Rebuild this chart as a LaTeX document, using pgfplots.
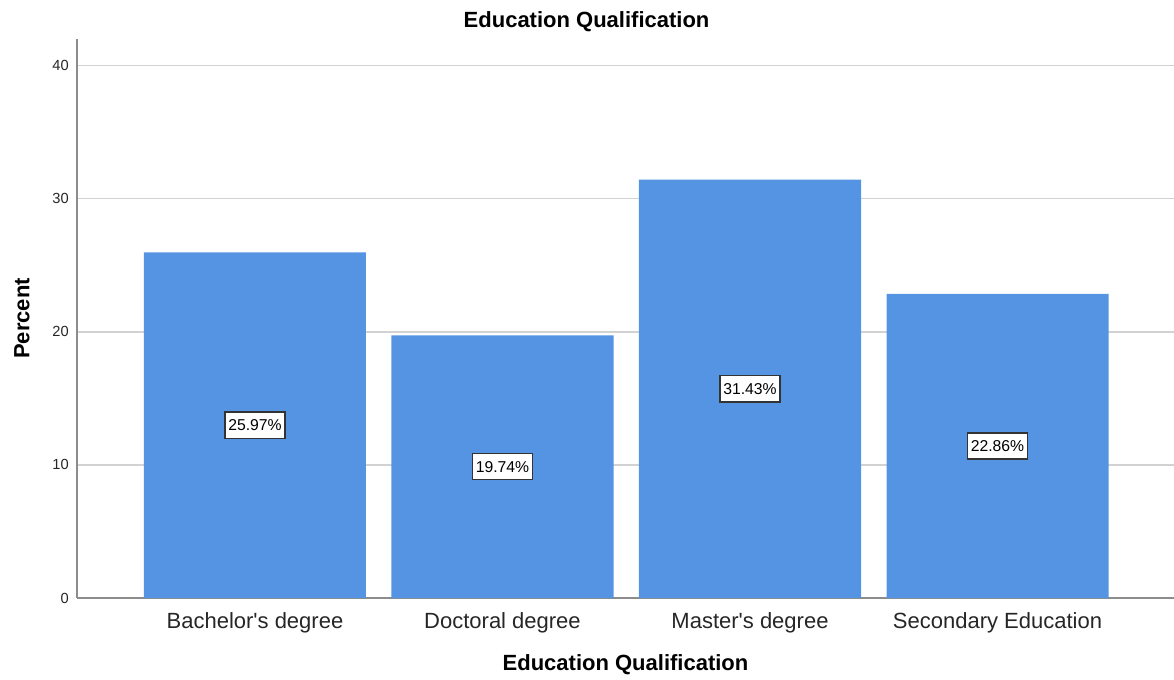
\documentclass[border=0pt]{standalone}
\usepackage{pgfplots}
\usepackage{pgfplotstable}
\pgfplotsset{compat=1.18}
\usepackage{fontspec}
\setmainfont{Liberation Sans}[Ligatures=TeXOff]

\definecolor{barblue}{HTML}{5594E3}
\definecolor{gridgray}{HTML}{D2D2D2}
\definecolor{axisgray}{HTML}{8C8C8C}

% Share of respondents by education level (percent)
\pgfplotstableread{
x  pct
0  25.97
1  19.74
2  31.43
3  22.86
}\edu

\begin{document}
\begin{tikzpicture}[x=1pt,y=1pt]
\path[use as bounding box] (-57.75pt,-60.75pt) rectangle (822.75pt,448.5pt);
\begin{axis}[
  scale only axis,
  width=822.75pt, height=419.25pt,
  xmin=-0.719, xmax=3.713,
  ymin=0, ymax=42,
  axis lines*=left,
  axis line style={axisgray, line width=1.1pt},
  ytick={0,10,20,30,40},
  xtick={0,1,2,3},
  xticklabels={Bachelor's degree, Doctoral degree, Master's degree, Secondary Education},
  major tick length=0pt,
  ymajorgrids,
  grid style={gridgray, line width=1.1pt},
  /pgf/number format/assume math mode=true,
  yticklabel style={font=\fontsize{11}{13}\selectfont, anchor=east, inner sep=0pt, xshift=-6pt, text=black!85},
  xticklabel style={font=\fontsize{16.5}{19}\selectfont, anchor=base, inner sep=0pt, yshift=-22.5pt, text=black!85},
  clip=false,
]
\addplot[ybar, bar width=0.897, fill=barblue, draw=none] table[x=x, y=pct] {\edu};
\addplot[draw=none, mark=none,
  nodes near coords={\pgfmathprintnumber[fixed,fixed zerofill,precision=2]{\pgfplotspointmeta}\%},
  point meta={\thisrow{pct}},
  nodes near coords style={anchor=center, fill=white, draw=black!80, line width=1pt,
    inner xsep=2.4pt, inner ysep=5.6pt, font=\fontsize{11.8}{13}\selectfont, text=black},
] table[x=x, y expr=\thisrow{pct}/2] {\edu};
\node[font=\fontsize{16.5}{19}\selectfont\bfseries, anchor=center] at ([yshift=13pt]rel axis cs:0.4645,1) {Education Qualification};
\node[font=\fontsize{16.5}{19}\selectfont\bfseries, anchor=center] at ([yshift=-50.25pt]rel axis cs:0.5,0) {Education Qualification};
\node[font=\fontsize{16.5}{19}\selectfont\bfseries, anchor=center, rotate=90] at ([xshift=-41.25pt]rel axis cs:0,0.5) {Percent};
\end{axis}
\end{tikzpicture}
\end{document}
